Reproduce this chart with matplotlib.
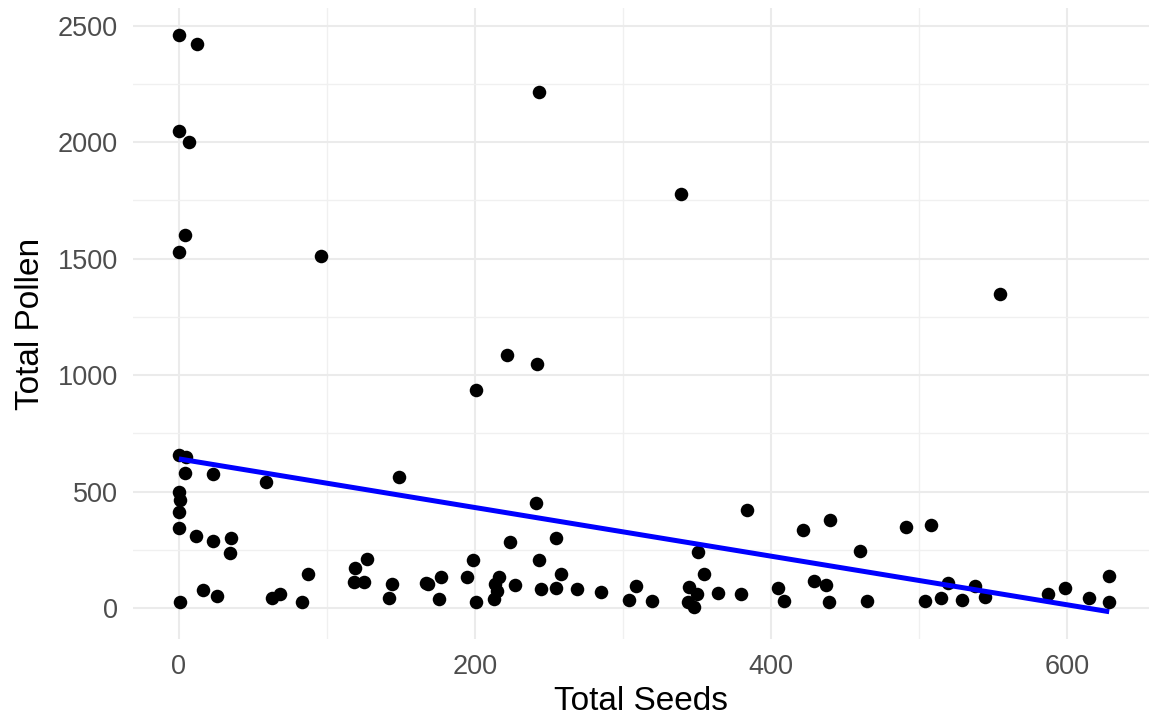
import numpy as np
import matplotlib.pyplot as plt
from matplotlib.ticker import MultipleLocator

plt.rcParams['font.family'] = ['Liberation Sans', 'DejaVu Sans']

# seeds / pollen counts per plant
total_seeds = [
    0, 12, 0, 7, 4, 0, 96, 243, 339, 555, 201, 222, 242,
    0, 5, 4, 23, 59, 149, 0, 1, 0, 0, 11.5, 23, 35, 34.5,
    127, 119, 87, 118, 125, 144, 167, 16, 26, 0.7, 63, 68, 83, 142,
    241, 224, 255, 199, 243, 351, 258, 355, 168, 177, 195, 216, 213.5,
    227, 245, 255, 269, 285, 309, 345, 364, 176, 201, 213, 215, 304,
    320, 350, 344, 348,
    384, 422, 440, 491, 508, 460, 380, 405, 409, 429, 437, 439, 465,
    504, 515, 520, 529, 538, 545, 587, 599, 615, 628.6, 628.6,
]
total_pollen = [
    2460, 2420, 2050, 2000, 1600, 1530, 1510, 2215, 1776, 1350, 938, 1088, 1050,
    658, 648, 582, 575, 541, 565, 500, 465, 414, 343, 310, 289, 300, 235,
    211, 173, 146, 113, 113, 106, 109, 77, 52, 27, 42, 60, 25, 42,
    453, 285, 300, 209, 209, 240, 149, 146, 106, 132, 135, 135, 106,
    99, 82, 85, 82, 70, 95, 92, 67, 39, 25, 39, 74, 34,
    30, 60, 27, 6,
    421, 335, 378, 350, 357, 245, 63, 85, 31, 116, 99, 27, 31,
    31, 44, 110, 37, 95, 49, 63, 89, 46, 138, 27,
]

x = np.array(total_seeds, dtype=float)
y = np.array(total_pollen, dtype=float)
# straight least-squares line through the points
slope, intercept = np.polyfit(x, y, 1)

fig = plt.figure(figsize=(11.49, 7.15), dpi=100)
ax = fig.add_axes([133 / 1149, 76 / 715, 1016 / 1149, 631 / 715])

ax.scatter(x, y, s=95, color='black', zorder=3, linewidths=0)
xs = np.array([x.min(), x.max()])
ax.plot(xs, intercept + slope * xs, color='#0000ff', lw=3.6, zorder=4,
        solid_capstyle='butt')

ax.set_xlim(-31, 655.5)
ax.set_ylim(-132, 2576)
ax.xaxis.set_major_locator(MultipleLocator(200))
ax.xaxis.set_minor_locator(MultipleLocator(100))
ax.yaxis.set_major_locator(MultipleLocator(500))
ax.yaxis.set_minor_locator(MultipleLocator(250))

ax.grid(which='major', color='#ebebeb', lw=1.5)
ax.grid(which='minor', color='#f0f0f0', lw=1.0)
ax.set_axisbelow(True)
for s in ax.spines.values():
    s.set_visible(False)
ax.tick_params(which='both', length=0, labelsize=19.5, colors='#4d4d4d')
ax.tick_params(axis='y', pad=11)
ax.tick_params(axis='x', pad=11)

ax.set_xlabel('Total Seeds', fontsize=24, color='black', labelpad=4)
ax.set_ylabel('Total Pollen', fontsize=24, color='black', labelpad=8)

fig.savefig('out.png', dpi=100)
